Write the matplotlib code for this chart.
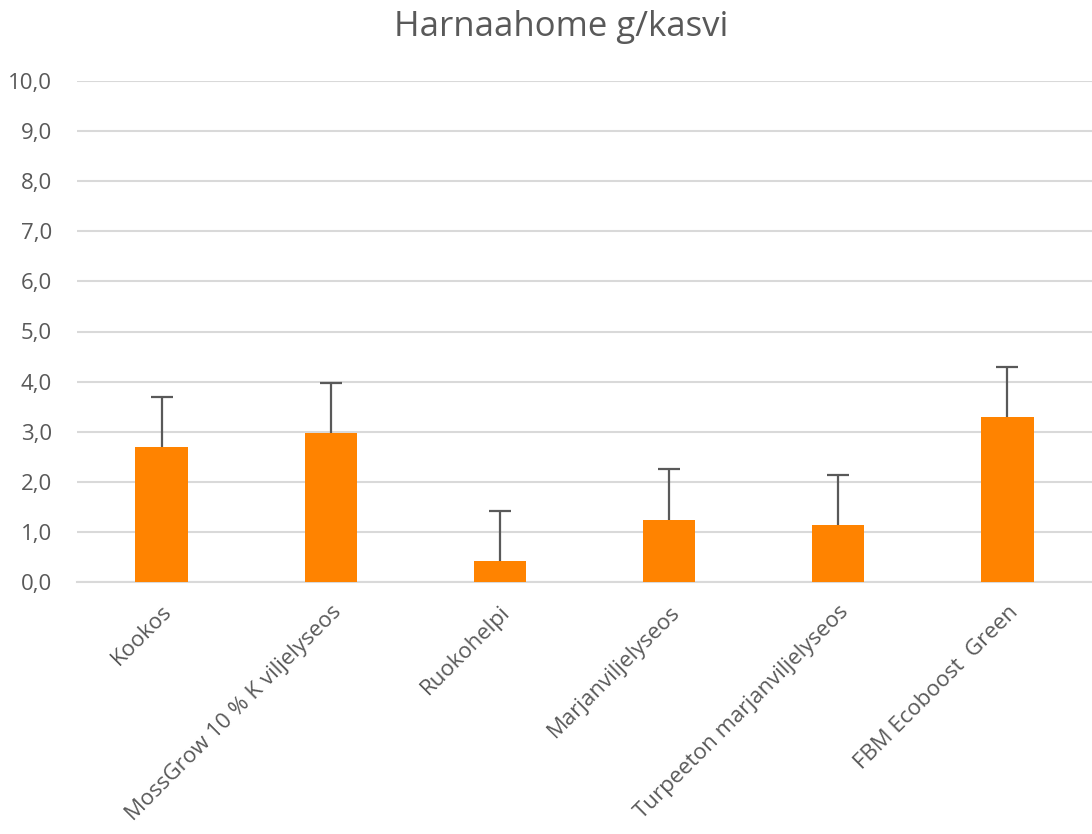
import matplotlib.pyplot as plt
import numpy as np

# Kasvualustat ja tulokset
kategoriat = ['Kookos', 'MossGrow 10 % K viljelyseos', 'Ruokohelpi',
              'Marjanviljelyseos', 'Turpeeton marjanviljelyseos', 'FBM Ecoboost  Green']
harnaahome = [2.69, 2.97, 0.41, 1.24, 1.13, 3.29]
virhe = [1.01, 1.00, 1.01, 1.02, 1.01, 1.01]
y_tikit = np.arange(0, 10.01, 1.0)

teksti = '#595959'
plt.rcParams['font.family'] = ['Open Sans', 'DejaVu Sans']

fig = plt.figure(figsize=(10.92, 8.34), dpi=100)
ax = fig.add_axes([77 / 1092, 1 - 582 / 834, (1092 - 77) / 1092, (582 - 81) / 834])

x = np.arange(len(kategoriat))
ax.bar(x, harnaahome, width=0.31, color='#FF8300', zorder=3)
_, caps, _ = ax.errorbar(x, harnaahome, yerr=[np.zeros(len(virhe)), virhe], fmt='none',
                         ecolor='#595959', elinewidth=1.6, capsize=8, capthick=1.6, zorder=4)
caps[0].set_visible(False)  # vain ylävirhe

ax.set_xlim(-0.5, 5.5)
ax.set_ylim(0, 10)
ax.set_yticks(y_tikit)
ax.set_yticklabels([f'{v:.1f}'.replace('.', ',') for v in y_tikit])
ax.yaxis.grid(True, color='#d9d9d9', linewidth=1.5, zorder=0)
ax.set_axisbelow(True)

for s in ['top', 'right', 'left']:
    ax.spines[s].set_visible(False)
ax.spines['bottom'].set_color('#d9d9d9')
ax.spines['bottom'].set_linewidth(1.5)

ax.tick_params(axis='both', length=0, labelsize=16, labelcolor=teksti)
ax.tick_params(axis='y', pad=18)
ax.set_xticks(x)
ax.set_xticklabels(kategoriat, rotation=45, ha='right', rotation_mode='anchor')
ax.tick_params(axis='x', pad=14)

fig.text(561 / 1092, 1 - 27 / 834, 'Harnaahome g/kasvi', ha='center', va='center',
         fontsize=25, color=teksti)

fig.savefig('out.png', dpi=100)
